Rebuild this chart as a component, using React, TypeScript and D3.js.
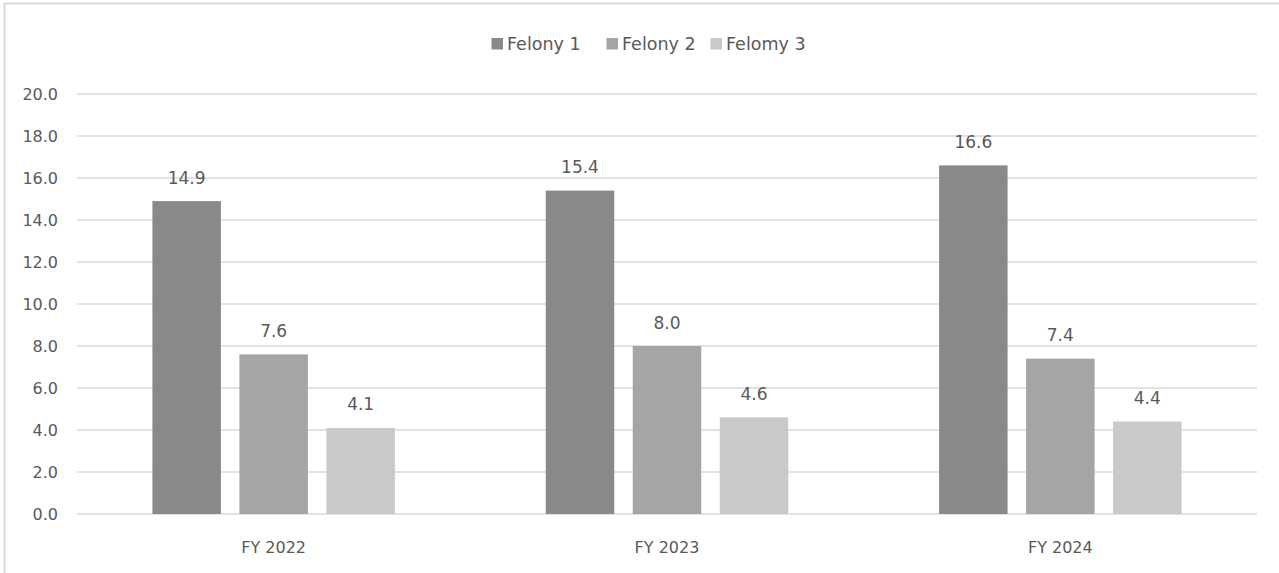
import React from "react";
import * as d3 from "d3";

const categories = ["FY 2022", "FY 2023", "FY 2024"];
const seriesNames = ["Felony 1", "Felony 2", "Felomy 3"];
const felony1 = [14.9, 15.4, 16.6];
const felony2 = [7.6, 8.0, 7.4];
const felony3 = [4.1, 4.6, 4.4];
const yTicks = [0, 2, 4, 6, 8, 10, 12, 14, 16, 18, 20];

const seriesValues = [felony1, felony2, felony3];
const colors = ["#898989", "#a5a5a5", "#c9c9c9"];

const W = 1279;
const H = 573;
const FONT = "'DejaVu Sans', sans-serif";

export default function App() {
  const plotLeft = 77;
  const plotRight = 1257;
  const y = d3.scaleLinear().domain([0, 20]).range([514, 94]);
  const x0 = d3.scaleBand<string>().domain(categories).range([plotLeft, plotRight]).padding(0);
  const groupWidth = 242.5;
  const x1 = d3
    .scaleBand<string>()
    .domain(seriesNames)
    .range([0, groupWidth])
    .paddingInner(18.5 / 87)
    .paddingOuter(0);

  const legendX = [491.5, 606.5, 710.5];

  return (
    <svg
      width={W}
      height={H}
      style={{ position: "absolute", left: 0, top: 0, display: "block", background: "#fff" }}
    >
      <rect x={0} y={0} width={W} height={H} fill="#fff" />
      {/* chart frame */}
      <path d={`M4.5,${H + 5} L4.5,3.5 L${W + 5},3.5`} fill="none" stroke="#d9d9d9" strokeWidth={2} />

      {/* gridlines */}
      {yTicks.map((t) => (
        <line
          key={"g" + t}
          x1={plotLeft}
          x2={plotRight}
          y1={y(t)}
          y2={y(t)}
          stroke="#d9d9d9"
          strokeWidth={1.6}
        />
      ))}

      {/* y tick labels */}
      {yTicks.map((t) => (
        <text
          key={"t" + t}
          x={58}
          y={y(t)}
          dy="0.36em"
          textAnchor="end"
          fontFamily={FONT}
          fontSize={16}
          fill="#595959"
        >
          {t.toFixed(1)}
        </text>
      ))}

      {/* bars */}
      {categories.map((c, ci) => {
        const gx = (x0(c) as number) + x0.bandwidth() / 2 - groupWidth / 2;
        return (
          <g key={c}>
            {seriesNames.map((s, si) => {
              const v = seriesValues[si][ci];
              const bx = gx + (x1(s) as number);
              const bw = x1.bandwidth();
              return (
                <g key={s}>
                  <rect x={bx} y={y(v)} width={bw} height={y(0) - y(v)} fill={colors[si]} />
                  <text
                    x={bx + bw / 2}
                    y={y(v) - 17.5}
                    textAnchor="middle"
                    fontFamily={FONT}
                    fontSize={17}
                    fill="#595959"
                  >
                    {v.toFixed(1)}
                  </text>
                </g>
              );
            })}
            <text
              x={(x0(c) as number) + x0.bandwidth() / 2}
              y={553}
              textAnchor="middle"
              fontFamily={FONT}
              fontSize={16}
              fill="#595959"
            >
              {c}
            </text>
          </g>
        );
      })}

      {/* legend */}
      {seriesNames.map((s, i) => (
        <g key={"l" + s}>
          <rect x={legendX[i]} y={38} width={11.5} height={11.5} fill={colors[i]} />
          <text x={legendX[i] + 15.5} y={49.5} fontFamily={FONT} fontSize={17.5} fill="#595959">
            {s}
          </text>
        </g>
      ))}
    </svg>
  );
}
